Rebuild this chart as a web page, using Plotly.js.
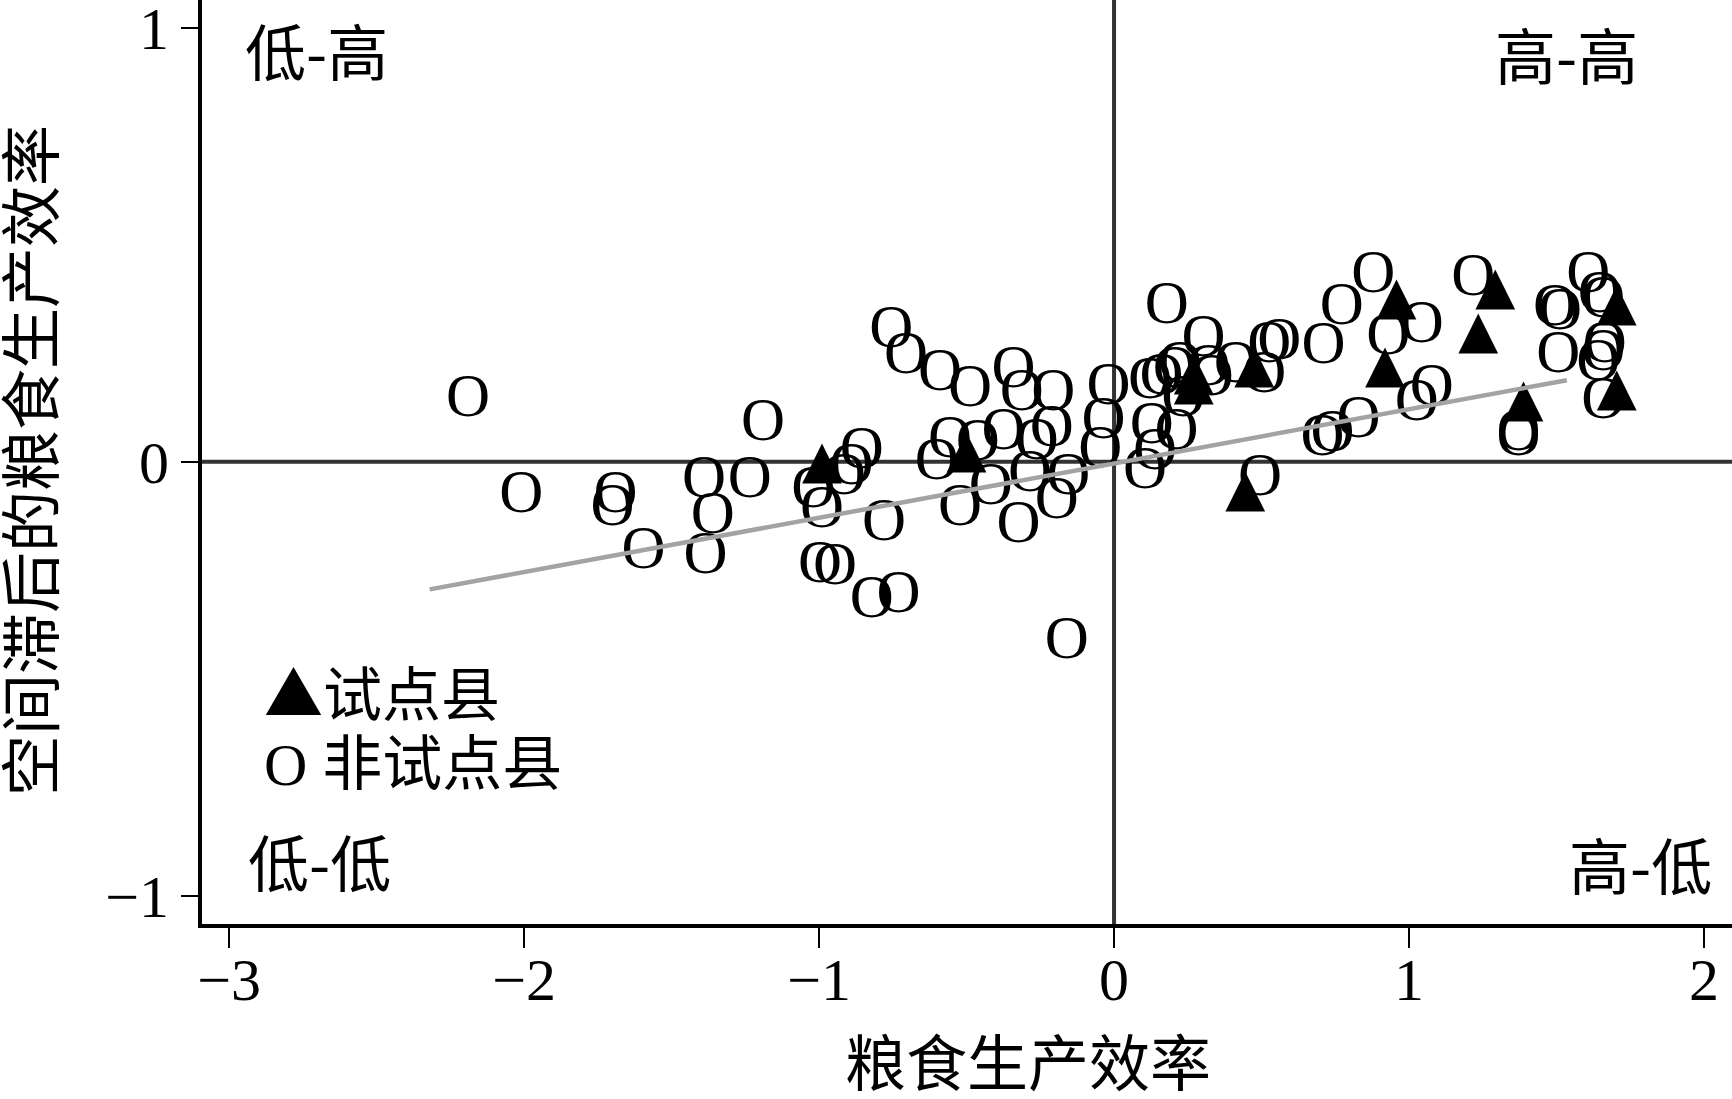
<!DOCTYPE html>
<html>
<head>
<meta charset="utf-8">
<script src="https://cdn.plot.ly/plotly-3.0.1.min.js"></script>
<style>html,body{margin:0;padding:0;background:#fff;overflow:hidden}</style>
</head>
<body>
<div id="chart" style="width:1732px;height:1099px"></div>
<script>
// Non-pilot counties (marker "O")
const nonPilotX = [-2.19,-2.01,-1.69,-1.70,-1.39,-1.235,-1.19,-1.36,-1.595,-1.385,
  -0.755,-0.705,-1.02,-0.99,-0.915,-0.89,-0.855,-0.78,-0.997,-0.946,-0.821,-0.731,
  -0.59,-0.488,-0.341,-0.313,-0.206,-0.019,-0.036,-0.047,-0.375,-0.262,-0.211,-0.556,
  -0.601,-0.462,-0.418,-0.522,-0.285,-0.155,-0.194,-0.324,-0.16,
  0.179,0.122,0.161,0.206,0.224,0.303,0.32,0.331,0.235,0.212,0.128,0.139,0.105,
  0.413,0.509,0.526,0.56,0.71,0.772,0.495,0.707,0.741,0.829,0.879,0.93,1.043,1.026,
  1.077,1.218,1.371,1.371,1.495,1.512,1.506,1.608,1.647,1.659,1.664,1.659,1.642,1.659];
const nonPilotY = [0.14,-0.08,-0.08,-0.11,-0.045,-0.045,0.085,-0.13,-0.21,-0.22,
  0.30,0.24,-0.07,-0.115,-0.04,-0.015,0.02,-0.146,-0.242,-0.246,-0.323,-0.311,
  0.20,0.164,0.207,0.154,0.154,0.168,0.09,0.023,0.064,0.042,0.071,0.046,
  -0.004,0.04,-0.061,-0.111,-0.033,-0.038,-0.094,-0.15,-0.418,
  0.355,0.181,0.192,0.207,0.219,0.28,0.211,0.188,0.14,0.065,0.079,0.019,-0.025,
  0.219,0.196,0.265,0.271,0.263,0.353,-0.042,0.05,0.06,0.092,0.426,0.284,0.311,0.131,
  0.165,0.419,0.062,0.05,0.35,0.342,0.242,0.426,0.38,0.369,0.265,0.246,0.223,0.135];
// Pilot counties (marker "▲")
const pilotX = [-0.99,-0.50,0.27,0.27,0.475,0.445,0.958,0.919,1.292,1.235,1.388,1.704,1.704];
const pilotY = [-0.004,0.021,0.201,0.176,0.216,-0.07,0.373,0.215,0.395,0.295,0.137,0.36,0.162];
// Fitted line end points
const fitX = [-2.32, 1.535];
const fitY = [-0.294, 0.188];
// Axis ticks
const xTicks = [-3,-2,-1,0,1,2];
const yTicks = [-1,0,1];
// Texts
const xTitle = '粮食生产效率';
const yTitle = '空间滞后的粮食生产效率';
const quadLabels = ['低-高','高-高','低-低','高-低'];
const legendLabels = ['▲试点县','O 非试点县'];

const serif = 'Liberation Serif, Times New Roman, serif';
const cjk = 'Noto Sans CJK SC, sans-serif';

const traces = [
  {type:'scatter', mode:'text', x:nonPilotX, y:nonPilotY,
   text:nonPilotX.map(()=> 'O'), textposition:'middle center',
   textfont:{family:serif, size:61, color:'#000'}, hoverinfo:'skip', cliponaxis:false},
  {type:'scatter', mode:'text', x:pilotX, y:pilotY,
   text:pilotX.map(()=> '▲'), textposition:'middle center',
   textfont:{family:'DejaVu Sans', size:52, color:'#000'}, hoverinfo:'skip', cliponaxis:false},
  {type:'scatter', mode:'lines', x:fitX, y:fitY,
   line:{color:'#a3a3a3', width:4.5}, hoverinfo:'skip'}
];

const layout = {
  width:1732, height:1099,
  margin:{l:202, r:0, t:0, b:175, pad:0},
  paper_bgcolor:'#fff', plot_bgcolor:'#fff',
  showlegend:false,
  font:{family:serif, color:'#000'},
  xaxis:{range:[-3.092,2.095], tickvals:xTicks, showgrid:false, zeroline:false,
    showline:true, linecolor:'#000', linewidth:4, ticks:'outside', ticklen:20,
    tickwidth:2.5, tickcolor:'#000', tickfont:{family:serif, size:60, color:'#000'},
    ticklabelstandoff:-20, ticklabeloverflow:'allow', fixedrange:true},
  yaxis:{range:[-1.065,1.064], tickvals:yTicks, showgrid:false, zeroline:false,
    showline:true, linecolor:'#000', linewidth:4, ticks:'outside', ticklen:17,
    tickwidth:2.5, tickcolor:'#000', tickfont:{family:serif, size:60, color:'#000'},
    ticklabeloverflow:'allow', fixedrange:true},
  shapes:[
    {type:'line', xref:'x', yref:'paper', x0:0, x1:0, y0:0, y1:1, layer:'below', line:{color:'#333', width:4}},
    {type:'line', xref:'paper', yref:'y', x0:0, x1:1, y0:0, y1:0, layer:'below', line:{color:'#333', width:4}}
  ],
  annotations:[
    {xref:'paper', yref:'paper', x:0.540, y:(924-1059)/924, text:xTitle, showarrow:false,
     xanchor:'center', yanchor:'middle', font:{family:cjk, size:61, color:'#000'}},
    {xref:'paper', yref:'paper', x:(27-202)/1530, y:0.501, text:yTitle, showarrow:false,
     textangle:-90, xanchor:'center', yanchor:'middle', font:{family:cjk, size:61, color:'#000'}},
    {xref:'paper', yref:'paper', x:0.027, y:0.946, text:quadLabels[0], showarrow:false,
     xanchor:'left', yanchor:'middle', font:{family:cjk, size:61, color:'#000'}},
    {xref:'paper', yref:'paper', x:0.940, y:0.942, text:quadLabels[1], showarrow:false,
     xanchor:'right', yanchor:'middle', font:{family:cjk, size:61, color:'#000'}},
    {xref:'paper', yref:'paper', x:0.029, y:0.069, text:quadLabels[2], showarrow:false,
     xanchor:'left', yanchor:'middle', font:{family:cjk, size:61, color:'#000'}},
    {xref:'paper', yref:'paper', x:0.988, y:0.066, text:quadLabels[3], showarrow:false,
     xanchor:'right', yanchor:'middle', font:{family:cjk, size:61, color:'#000'}},
    {xref:'paper', yref:'paper', x:0.039, y:0.253, text:legendLabels[0], showarrow:false,
     xanchor:'left', yanchor:'middle', font:{family:cjk, size:59, color:'#000'}},
    {xref:'paper', yref:'paper', x:0.039, y:0.172, text:legendLabels[1], showarrow:false,
     xanchor:'left', yanchor:'middle', font:{family:serif + ', Noto Sans CJK SC', size:60, color:'#000'}}
  ]
};

Plotly.newPlot('chart', traces, layout, {displayModeBar:false, staticPlot:true});
</script>
</body>
</html>
